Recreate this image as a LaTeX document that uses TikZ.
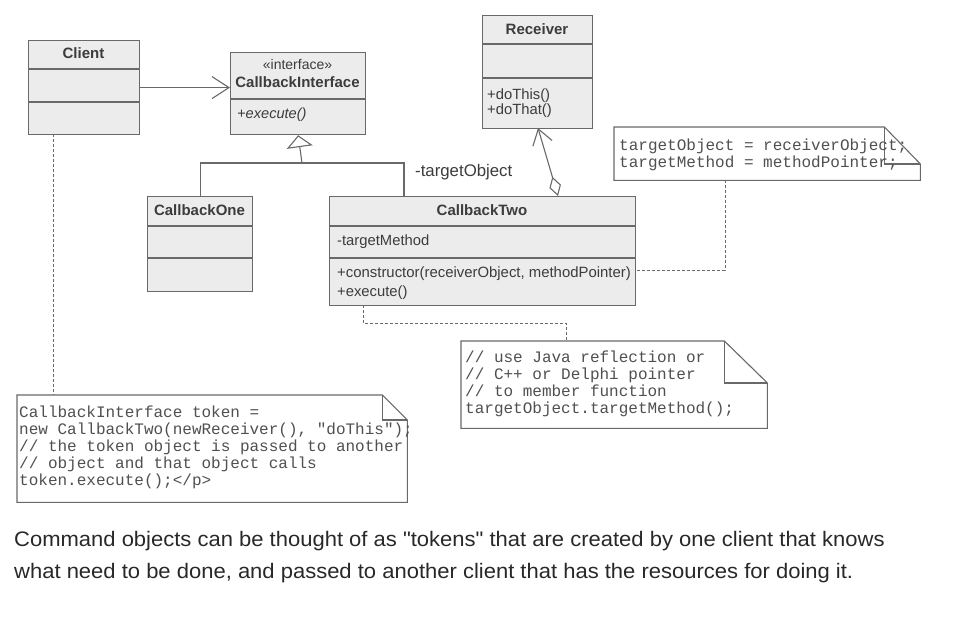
\documentclass[tikz,border=0pt]{standalone}
\usepackage{fontspec}
\setmainfont{Liberation Sans}[Ligatures=TeXOff]
\newfontfamily\codefont{Liberation Mono}[Ligatures=TeXOff]
\usetikzlibrary{arrows.meta,calc}
\definecolor{umlfill}{RGB}{236,236,236}
\definecolor{umlline}{RGB}{105,105,105}
\definecolor{umltext}{RGB}{60,60,60}
\definecolor{codetext}{RGB}{80,80,80}
\definecolor{bodytext}{RGB}{40,40,40}
\begin{document}
\begin{tikzpicture}[x=1pt,y=-1pt,
  classbox/.style={draw=umlline, fill=umlfill, line width=1.2pt, inner sep=0pt, anchor=north west},
  divider/.style={draw=umlline, line width=1.2pt},
  uml/.style={font=\fontsize{14.8}{16}\selectfont, text=umltext, inner sep=0pt},
  umlb/.style={font=\fontsize{15}{16}\selectfont\bfseries, text=umltext, inner sep=0pt},
  umli/.style={font=\fontsize{14.6}{16}\selectfont\itshape, text=umltext, inner sep=0pt},
  code/.style={font=\fontsize{16}{17}\selectfont\codefont, text=codetext, inner sep=0pt, anchor=mid west, yshift=-2pt},
  notebox/.style={inner sep=0pt, anchor=north west},
  noteline/.style={draw=umlline, line width=1.1pt, fill=white},
  dep/.style={draw=umlline, line width=1pt, dash pattern=on 3pt off 2pt},
  assoc/.style={draw=umlline, line width=1.1pt},
  caption/.style={font=\fontsize{20}{24}\selectfont, text=bodytext, anchor=mid west, inner sep=0pt}
]
\useasboundingbox (0,0) rectangle (960,616);

% ---------- Client ----------
\node[classbox, minimum width=111, minimum height=94] (client) at (28,40) {};
\draw[divider] (28,69) -- (139,69);
\draw[divider] (28,102) -- (139,102);
\node[umlb] (clientT) at (83.5,53) {Client};

% ---------- CallbackInterface ----------
\node[classbox, minimum width=135, minimum height=82] (ci) at (230,52) {};
\draw[divider] (230,99) -- (365,99);
\node[font=\fontsize{14}{16}\selectfont, text=umltext, inner sep=0pt] (ciS) at (297.5,64) {«interface»};
\node[umlb] (ciT) at (297.5,82) {CallbackInterface};
\node[umli, anchor=west] (ciE) at (237,115) {+execute()};

% ---------- Receiver ----------
\node[classbox, minimum width=110, minimum height=113] (recv) at (482,15) {};
\draw[divider] (482,44) -- (592,44);
\draw[divider] (482,78) -- (592,78);
\node[umlb] (recvT) at (537,29) {Receiver};
\node[uml, anchor=west] (recvA) at (487,96) {+doThis()};
\node[uml, anchor=west] (recvB) at (487,111) {+doThat()};

% ---------- CallbackOne ----------
\node[classbox, minimum width=105, minimum height=95] (cb1) at (147,196) {};
\draw[divider] (147,226) -- (252,226);
\draw[divider] (147,258) -- (252,258);
\node[umlb] (cb1T) at (199.5,210) {CallbackOne};

% ---------- CallbackTwo ----------
\node[classbox, minimum width=306, minimum height=109] (cb2) at (329,196) {};
\draw[divider] (329,226) -- (635,226);
\draw[divider] (329,258) -- (635,258);
\node[umlb] (cb2T) at (482,210) {CallbackTwo};
\node[uml, anchor=west] (cb2A) at (337,242) {-targetMethod};
\node[font=\fontsize{14.9}{16}\selectfont, text=umltext, inner sep=0pt, anchor=west] (cb2B) at (337,274) {+constructor(receiverObject, methodPointer)};
\node[uml, anchor=west] (cb2C) at (337,293) {+execute()};

% ---------- association Client -> CallbackInterface ----------
\draw[assoc, -{Straight Barb[length=17pt,width=22pt,line width=1.1pt]}] (client.east) -- (ci.west |- client.east);

% ---------- generalization ----------
\coordinate (inh) at (302,163);
\coordinate (cb2top) at (404,196);
\draw[assoc] (cb1.north) |- (inh) -| (cb2top);
\draw[assoc, -{Triangle[open, length=12pt, width=26pt, fill=white, line width=1.1pt]}] (inh) -- (ci.south);

% ---------- aggregation CallbackTwo -> Receiver ----------
\coordinate (aggS) at (558,196);
\coordinate (aggE) at (538,128);
\draw[assoc, {Diamond[open, length=20pt, width=12pt, fill=white, line width=1.1pt]}-{Straight Barb[length=15pt,width=20pt,line width=1.1pt]}] (aggS) -- (aggE);
\node[font=\fontsize{16.8}{18}\selectfont, text=umltext, inner sep=0pt, anchor=west] (tobj) at (415,172) {-targetObject};

% ---------- Note 1 ----------
\node[notebox, minimum width=306, minimum height=53] (n1) at (614,127) {};
\draw[noteline] (n1.north west) -- ($(n1.north east)+(-36,0)$) -- ($(n1.north east)+(0,37)$) -- (n1.south east) -- (n1.south west) -- cycle;
\draw[noteline, fill=none] ($(n1.north east)+(-36,0)$) -- ($(n1.north east)+(-36,37)$) -- ($(n1.north east)+(0,37)$);
\node[code] (n1a) at (619,146) {targetObject = receiverObject;};
\node[code] (n1b) at (619,163) {targetMethod = methodPointer;};

% ---------- Note 2 ----------
\node[notebox, minimum width=306, minimum height=87] (n2) at (461,341) {};
\draw[noteline] (n2.north west) -- ($(n2.north east)+(-43,0)$) -- ($(n2.north east)+(0,42)$) -- (n2.south east) -- (n2.south west) -- cycle;
\draw[noteline, fill=none] ($(n2.north east)+(-43,0)$) -- ($(n2.north east)+(-43,42)$) -- ($(n2.north east)+(0,42)$);
\node[code] (n2a) at (465,358) {// use Java reflection or};
\node[code] (n2b) at (465,375) {// C++ or Delphi pointer};
\node[code] (n2c) at (465,392) {// to member function};
\node[code] (n2d) at (465,409) {targetObject.targetMethod();};

% ---------- Note 3 ----------
\node[notebox, minimum width=390, minimum height=107] (n3) at (17,395) {};
\draw[noteline] (n3.north west) -- ($(n3.north east)+(-25,0)$) -- ($(n3.north east)+(0,25)$) -- (n3.south east) -- (n3.south west) -- cycle;
\draw[noteline, fill=none] ($(n3.north east)+(-25,0)$) -- ($(n3.north east)+(-25,25)$) -- ($(n3.north east)+(0,25)$);
\node[code] (n3a) at (19,413) {CallbackInterface token =};
\node[code] (n3b) at (19,430) {new CallbackTwo(newReceiver(), "doThis");};
\node[code] (n3c) at (19,447) {// the token object is passed to another};
\node[code] (n3d) at (19,464) {// object and that object calls};
\node[code] (n3e) at (19,481) {token.execute();</p>};

% ---------- dependency lines ----------
\coordinate (n1p) at (725,180);
\coordinate (cb2r) at (635,270);
\draw[dep] (n1p) |- (cb2r);
\coordinate (cb2b) at (363,305);
\coordinate (n2t) at (566,341);
\draw[dep] (cb2b) -- (363,323) -| (n2t);
\coordinate (clb) at (53,134);
\coordinate (n3t) at (53,395);
\draw[dep] (clb) -- (n3t);

% ---------- caption ----------
\node[caption] (cap1) at (14,544) {\scalebox{1.1}[1.05]{Command objects can be thought of as "tokens" that are created by one client that knows}};
\node[caption] (cap2) at (14,576) {\scalebox{1.1}[1.05]{what need to be done, and passed to another client that has the resources for doing it.}};
\end{tikzpicture}
\end{document}
